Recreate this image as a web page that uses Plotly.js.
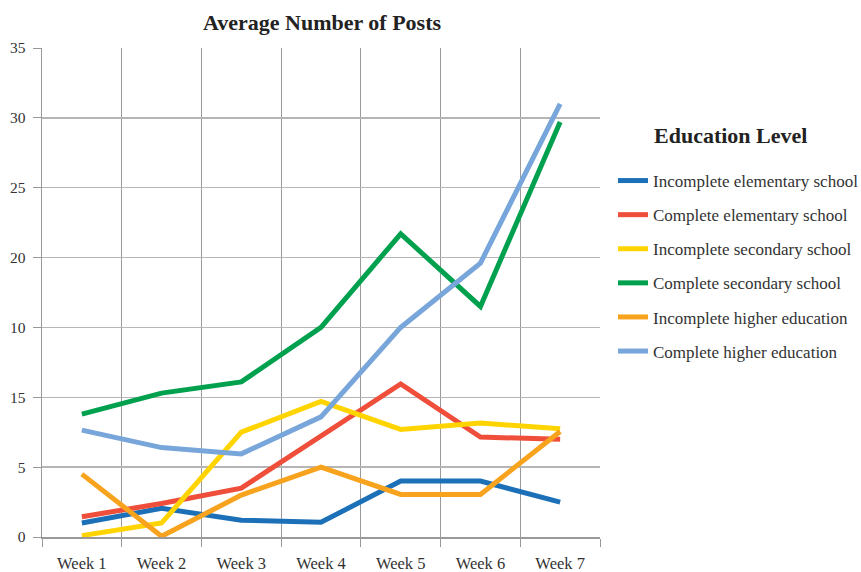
<!DOCTYPE html>
<html>
<head>
<meta charset="utf-8">
<script src="https://cdn.plot.ly/plotly-3.0.1.min.js"></script>
<style>html,body{margin:0;padding:0;background:#fff;}#chart{width:861px;height:572px;}</style>
</head>
<body>
<div id="chart"></div>
<script>
const weeks = ["Week 1", "Week 2", "Week 3", "Week 4", "Week 5", "Week 6", "Week 7"];
const seriesNames = [
  "Incomplete elementary school",
  "Complete elementary school",
  "Incomplete secondary school",
  "Complete secondary school",
  "Incomplete higher education",
  "Complete higher education"
];
const incompleteElementary = [1.0, 2.05, 1.2, 1.05, 4.0, 4.0, 2.5];
const completeElementary   = [1.45, 2.4, 3.5, 7.2, 10.95, 7.15, 7.0];
const incompleteSecondary  = [0.1, 1.0, 7.5, 9.7, 7.7, 8.15, 7.75];
const completeSecondary    = [8.8, 10.3, 11.1, 15.0, 21.7, 16.5, 29.7];
const incompleteHigher     = [4.5, 0.05, 3.0, 5.0, 3.05, 3.05, 7.55];
const completeHigher       = [7.65, 6.4, 5.95, 8.6, 15.0, 19.6, 31.0];
const yTickVals  = [0, 5, 10, 15, 20, 25, 30, 35];
const yTickText  = ["0", "5", "15", "10", "20", "25", "30", "35"];
const colors = ["#1B70B8", "#EF4E3A", "#FFD400", "#00A14E", "#F8A31D", "#78A6DA"];

const allSeries = [incompleteElementary, completeElementary, incompleteSecondary,
                   completeSecondary, incompleteHigher, completeHigher];

const serif = "Liberation Serif, DejaVu Serif, serif";

const traces = allSeries.map((vals, i) => ({
  type: "scatter",
  mode: "lines",
  x: weeks,
  y: vals,
  name: seriesNames[i],
  legendgroup: "g" + i,
  line: {color: colors[i], width: 5, shape: "linear"},
  hoverinfo: "x+y+name"
}));

const layout = {
  width: 861,
  height: 572,
  margin: {l: 42, r: 261, t: 48, b: 35},
  paper_bgcolor: "#ffffff",
  plot_bgcolor: "#ffffff",
  font: {family: serif, color: "#333333", size: 15},
  title: {
    text: "<b>Average Number of Posts</b>",
    font: {family: serif, size: 22, color: "#222222"},
    x: 322 / 861, xanchor: "center",
    y: 1 - 22 / 572, yanchor: "middle"
  },
  xaxis: {
    type: "category",
    range: [-0.5, 6.5],
    tickson: "boundaries",
    ticks: "outside",
    ticklen: 8,
    tickcolor: "#999999",
    showgrid: true,
    gridcolor: "#9a9a9a",
    gridwidth: 1,
    showline: true,
    linecolor: "#999999",
    linewidth: 1.5,
    tickfont: {family: serif, size: 16.5, color: "#333333"},
    ticklabelstandoff: 11,
    fixedrange: true
  },
  yaxis: {
    range: [0, 35],
    tickvals: yTickVals,
    ticktext: yTickText,
    ticks: "outside",
    ticklen: 8,
    tickcolor: "#999999",
    showgrid: true,
    gridcolor: "#b5b5b5",
    gridwidth: 1.3,
    zeroline: false,
    showline: true,
    linecolor: "#999999",
    linewidth: 1.5,
    tickfont: {family: serif, size: 15.5, color: "#333333"},
    ticklabelstandoff: 4,
    fixedrange: true
  },
  showlegend: true,
  legend: {
    xref: "container", yref: "container",
    x: 613 / 861, xanchor: "left",
    y: 1 - 163 / 572, yanchor: "top",
    traceorder: "grouped",
    tracegroupgap: 9,
    font: {family: serif, size: 17, color: "#333333"},
    bgcolor: "rgba(0,0,0,0)",
    itemwidth: 30
  },
  annotations: [{
    text: "<b>Education Level</b>",
    xref: "paper", yref: "paper",
    x: (652 - 42) / 558, xanchor: "left",
    y: (537 - 135) / 489, yanchor: "middle",
    showarrow: false,
    font: {family: serif, size: 22, color: "#222222"}
  }]
};

Plotly.newPlot("chart", traces, layout, {displayModeBar: false, staticPlot: true});
</script>
</body>
</html>
